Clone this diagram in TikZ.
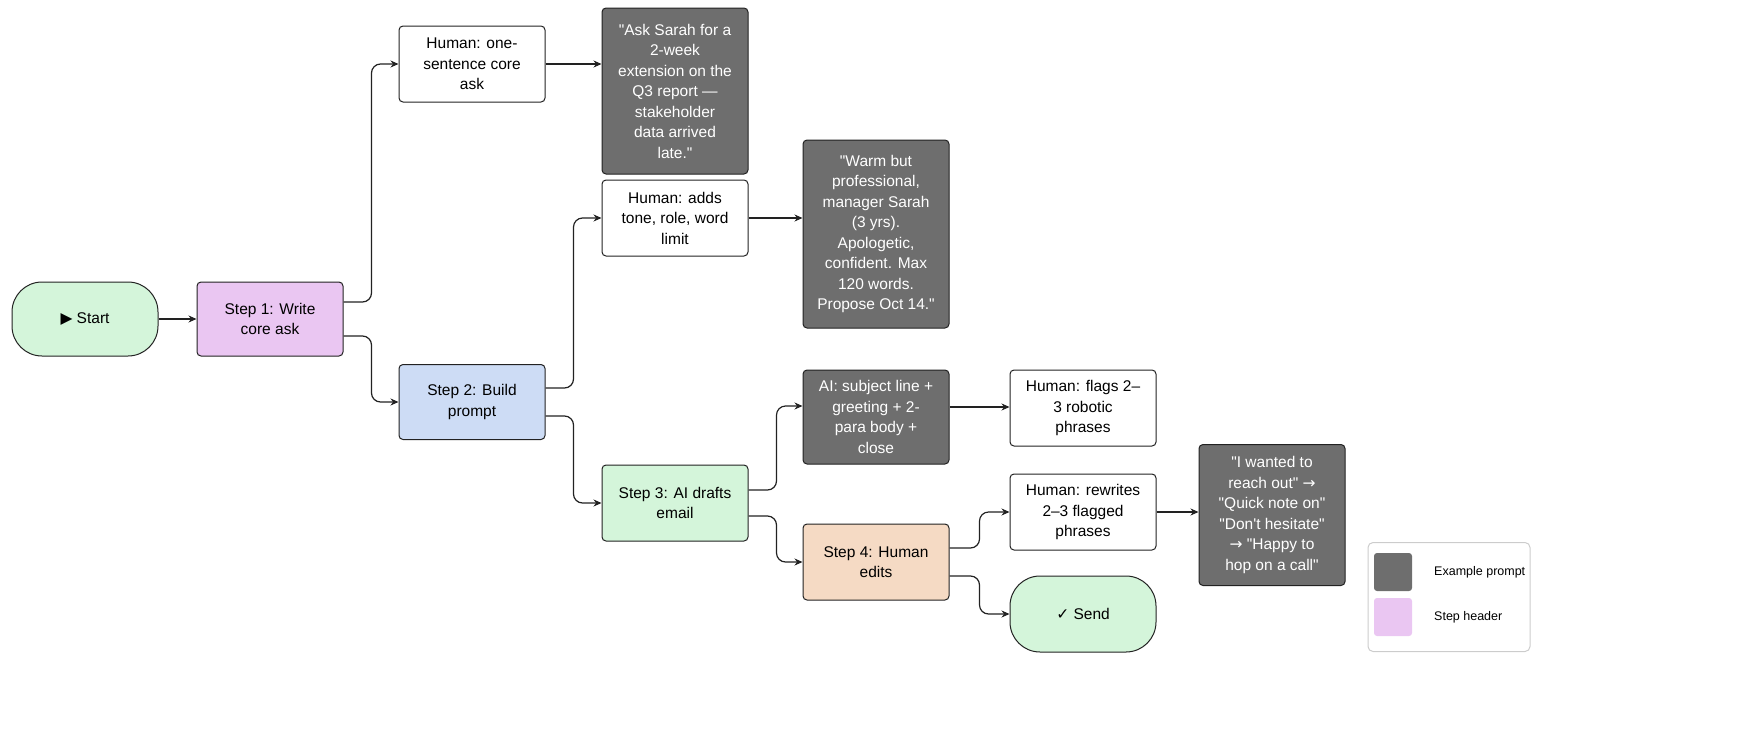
\documentclass[tikz,border=0pt]{standalone}
\usepackage{fontspec}
\setmainfont{Liberation Sans}[Ligatures=NoCommon]
\newfontfamily\symf{DejaVu Sans}
\usetikzlibrary{arrows.meta,calc}
\newcommand\qq{\textquotedbl}
\definecolor{dk}{HTML}{6E6E6E}
\definecolor{gr}{HTML}{D4F5DA}
\definecolor{pu}{HTML}{EAC6F2}
\definecolor{bl}{HTML}{CDDCF5}
\definecolor{pe}{HTML}{F5DAC4}
\definecolor{ed}{HTML}{222222}
\begin{document}
\begin{tikzpicture}[x=1pt,y=-1pt,
  every node/.style={font=\fontsize{15.5}{20.5}\selectfont, align=center, inner sep=2pt},
  box/.style={draw=ed, line width=1pt, rounded corners=4pt, minimum width=146pt, minimum height=#1pt, fill=white},
  box/.default=76,
  dark/.style={box=#1, fill=dk, text=white},
  pill/.style={box=#1, rounded corners=30pt},
  conn/.style={draw=ed, line width=1.2pt, -{Stealth[length=8pt,width=7pt]}, rounded corners=9pt}]
\useasboundingbox (0,0) rectangle (1758,742);
\node[pill=74, fill=gr] (st) at (85,319) {{\symf ▶} Start};
\node[box=74, fill=pu] (s1) at (270,319) {Step 1: Write\\core ask};
\node[box] (h1) at (472,64) {Human: one-\\sentence core\\ask};
\node[dark=166] (q1) at (675,91) {\qq Ask Sarah for a\\2-week\\extension on the\\Q3 report ---\\stakeholder\\data arrived\\late.\qq};
\node[box=75, fill=bl] (s2) at (472,402) {Step 2: Build\\prompt};
\node[box] (h2) at (675,218) {Human: adds\\tone, role, word\\limit};
\node[dark=188] (q2) at (876,234) {\qq Warm but\\professional,\\manager Sarah\\(3 yrs).\\Apologetic,\\confident. Max\\120 words.\\Propose Oct 14.\qq};
\node[box, fill=gr] (s3) at (675,503) {Step 3: AI drafts\\email};
\node[dark=94] (ai) at (876,417) {AI: subject line +\\greeting + 2-\\para body +\\close};
\node[box] (hf) at (1083,408) {Human: flags 2–\\3 robotic\\phrases};
\node[box, fill=pe] (s4) at (876,562) {Step 4: Human\\edits};
\node[box] (hr) at (1083,512) {Human: rewrites\\2–3 flagged\\phrases};
\node[dark=141] (q3) at (1272,515) {\qq I wanted to\\reach out\qq{} {\symf →}\\\qq Quick note on\qq\\\qq Don\textquotesingle t hesitate\qq\\{\symf →} \qq Happy to\\hop on a call\qq};
\node[pill=76, fill=gr] (sd) at (1083,614) {{\symf ✓} Send};
\draw[conn] (st) -- (s1);
\draw[conn] ($(s1.east)+(0,-17)$) -- ++(28,0) |- (h1.west);
\draw[conn] ($(s1.east)+(0,17)$) -- ++(28,0) |- (s2.west);
\draw[conn] (h1) -- (q1.west |- h1);
\draw[conn] ($(s2.east)+(0,-14)$) -- ++(28,0) |- (h2.west);
\draw[conn] ($(s2.east)+(0,14)$) -- ++(28,0) |- (s3.west);
\draw[conn] (h2) -- (q2.west |- h2);
\draw[conn] ($(s3.east)+(0,-13)$) -- ++(28,0) |- ($(ai.west)+(0,-11)$);
\draw[conn] ($(s3.east)+(0,13)$) -- ++(28,0) |- (s4.west);
\draw[conn] ($(ai.east)+(0,-10)$) -- (hf.west |- 0,407);
\draw[conn] ($(s4.east)+(0,-14)$) -- ++(30,0) |- (hr.west);
\draw[conn] ($(s4.east)+(0,14)$) -- ++(30,0) |- (sd.west);
\draw[conn] (hr) -- (q3.west |- hr);
% legend
\node[draw=black!20, line width=1pt, rounded corners=5pt, minimum width=162pt, minimum height=109pt] (lg) at (1449,597) {};
\node[fill=dk, rounded corners=3pt, minimum size=38pt, inner sep=0pt] (l1) at (1393,572) {};
\node[fill=pu, rounded corners=3pt, minimum size=38pt, inner sep=0pt] (l2) at (1393,617) {};
\node[anchor=west, font=\fontsize{12.5}{15}\selectfont] (t1) at (1432,572) {Example prompt};
\node[anchor=west, font=\fontsize{12.5}{15}\selectfont] (t2) at (1432,617) {Step header};
\end{tikzpicture}
\end{document}
